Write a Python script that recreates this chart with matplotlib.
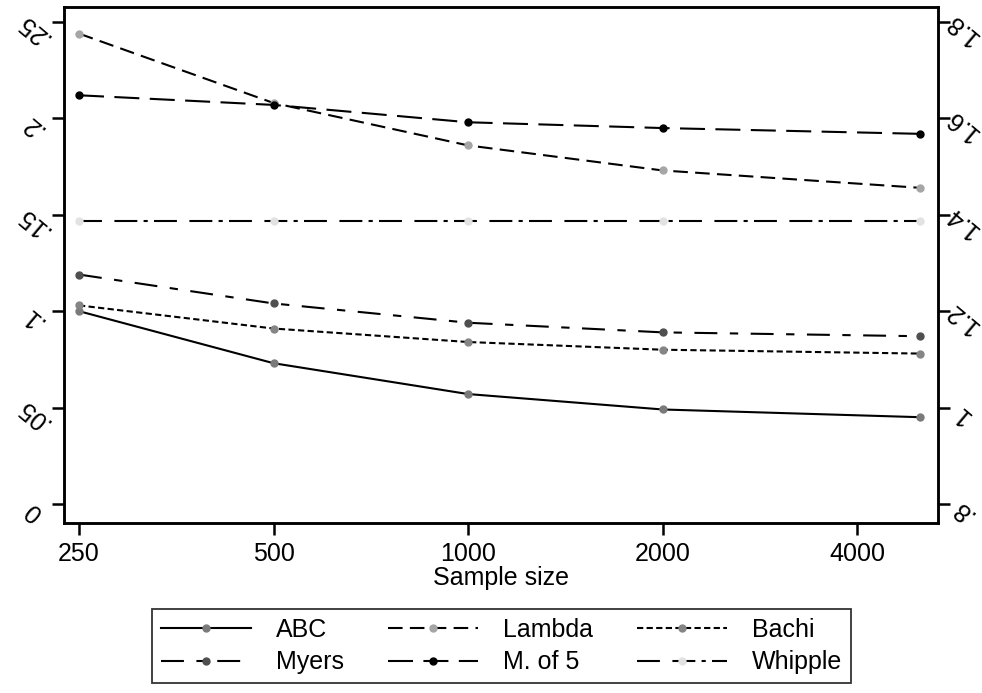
import numpy as np
import matplotlib.pyplot as plt
import matplotlib.transforms as mtransforms
from matplotlib.lines import Line2D

plt.rcParams['font.family'] = ['Liberation Sans', 'DejaVu Sans']

# data
sample_size = [250, 500, 1000, 2000, 5000]
abc = [0.100, 0.073, 0.057, 0.049, 0.045]
lambda_ = [0.244, 0.208, 0.186, 0.173, 0.164]
bachi = [0.103, 0.091, 0.084, 0.080, 0.078]
myers = [0.119, 0.104, 0.094, 0.089, 0.087]
mof5 = [0.212, 0.207, 0.198, 0.195, 0.192]
whipple = [0.147, 0.147, 0.147, 0.147, 0.147]

xticks = [250, 500, 1000, 2000, 4000]
yticks = [0, 0.05, 0.1, 0.15, 0.2, 0.25]
ylabels = ['0', '.05', '.1', '.15', '.2', '.25']
rticks = [0.8, 1.0, 1.2, 1.4, 1.6, 1.8]
rlabels = ['.8', '1', '1.2', '1.4', '1.6', '1.8']

series = [
    ('ABC', abc, '-', '#7a7a7a'),
    ('Lambda', lambda_, (0, (7, 3.5)), '#a6a6a6'),
    ('Bachi', bachi, (0, (3, 1.6)), '#858585'),
    ('Myers', myers, (0, (11, 6, 4, 6)), '#4f4f4f'),
    ('M. of 5', mof5, (0, (12, 5)), '#000000'),
    ('Whipple', whipple, (0, (11, 6, 11, 3, 2, 3)), '#e2e2e2'),
]

fig = plt.figure(figsize=(9.82, 6.93), dpi=100)
ax = fig.add_axes([0.0652, 0.2453, 0.89, 0.7446])

for name, vals, ls, mc in series:
    ax.plot(sample_size, vals, color='black', linestyle=ls, linewidth=1.5,
            marker='o', markersize=5, markerfacecolor=mc, markeredgecolor=mc,
            label=name)

ax.set_xscale('log')
ax.set_xlim(237, 5336)
ax.set_xticks(xticks)
ax.set_xticklabels([str(t) for t in xticks])
ax.minorticks_off()
ylo, yhi = -0.0099, 0.2578
ax.set_ylim(ylo, yhi)
ax.set_yticks(yticks)
ax.set_yticklabels(ylabels, rotation=140, ha='center', va='center')
ax.set_xlabel('Sample size', fontsize=18, labelpad=0)

ax2 = ax.twinx()
ax2.set_ylim(0.8 + 4 * ylo, 0.8 + 4 * yhi)
ax2.set_yticks(rticks)
ax2.set_yticklabels(rlabels, rotation=140, ha='center', va='center')

for a in (ax, ax2):
    for s in a.spines.values():
        s.set_linewidth(1.8)
    a.tick_params(width=1.8, length=8.5, labelsize=18)
ax.tick_params(axis='y', pad=14)
ax2.tick_params(axis='y', pad=9)
ax.tick_params(axis='x', pad=5)

# rotated labels sit a little below their ticks
shift = mtransforms.ScaledTranslation(0, -7 / 100, fig.dpi_scale_trans)
for a in (ax, ax2):
    for tick in a.yaxis.get_major_ticks():
        for lab in (tick.label1, tick.label2):
            lab.set_transform(lab.get_transform() + shift)

# legend filled row by row, as in the reference
order = [0, 3, 1, 4, 2, 5]
handles = [Line2D([], [], color='black', linestyle=series[i][2], linewidth=1.5,
                  marker='o', markersize=5, markerfacecolor=series[i][3],
                  markeredgecolor=series[i][3]) for i in order]
labels = [series[i][0] for i in order]
leg = fig.legend(handles, labels, ncol=3, loc='center',
                 bbox_to_anchor=(0.5107, 0.0678), fontsize=18, frameon=True,
                 fancybox=False, edgecolor='black', handlelength=3.6,
                 columnspacing=1.75, handletextpad=1.0, borderpad=0.35,
                 labelspacing=0.35)
leg.get_frame().set_linewidth(1.3)

fig.savefig('out.png', dpi=100)
